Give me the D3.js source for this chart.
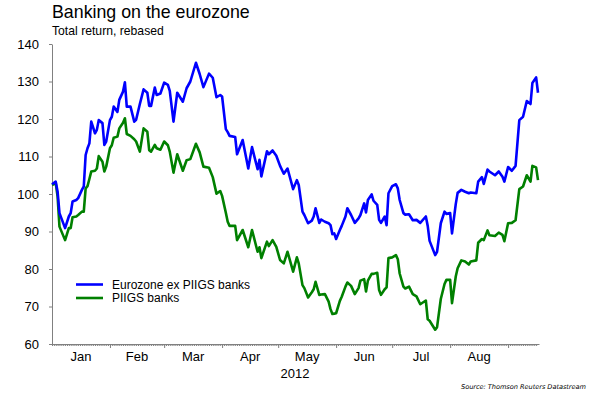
<!DOCTYPE html>
<html>
<head>
<meta charset="utf-8">
<script src="https://cdn.jsdelivr.net/npm/d3@7"></script>
<style>
  body { margin: 0; background: #fff; }
  svg { display: block; font-family: "Liberation Sans", Arial, sans-serif; }
</style>
</head>
<body>
<div id="chart"></div>
<script>
(function () {
  "use strict";

  // trading days sampled off the chart (2012)
  var dates = [
    "01-01","01-03","01-04","01-05","01-08","01-10","01-11","01-12","01-14","01-15",
    "01-17","01-18","01-19","01-20","01-21","01-22","01-24","01-25","01-26","01-28",
    "01-29","01-30","02-01","02-02","02-03","02-05","02-06","02-08","02-09","02-10",
    "02-12","02-14","02-15","02-17","02-19","02-21","02-22","02-23","02-25","02-26",
    "02-28","03-01","03-03","03-04","03-06","03-08","03-11","03-13","03-15","03-18",
    "03-20","03-22","03-25","03-27","03-29","03-31","04-01","04-03","04-04","04-05",
    "04-08","04-09","04-12","04-15","04-17","04-20","04-21","04-22","04-25","04-26",
    "04-28","04-30","05-02","05-04","05-06","05-09","05-11","05-12","05-14","05-15",
    "05-17","05-19","05-20","05-21","05-23","05-24","05-26","05-28","05-29","05-30",
    "05-31","06-01","06-03","06-04","06-06","06-07","06-09","06-11","06-13","06-14",
    "06-16","06-17","06-18","06-20","06-21","06-23","06-24","06-25","06-27","06-28",
    "06-29","07-01","07-03","07-04","07-05","07-07","07-08","07-10","07-12","07-14",
    "07-16","07-19","07-20","07-21","07-24","07-25","07-27","07-29","07-30","08-01",
    "08-02","08-04","08-05","08-07","08-09","08-11","08-12","08-15","08-16","08-18",
    "08-19","08-21","08-22","08-25","08-27","08-29","08-30","09-01","09-03","09-05",
    "09-07","09-09","09-11","09-13","09-14","09-16","09-17"
  ];

  var exPiigs = [
    102.6,103.3,100.6,94.9,90.9,94.0,94.9,98.0,98.4,98.9,
    101.1,102.0,110.4,112.2,113.5,119.3,116.2,117.1,119.7,118.9,
    113.1,114.0,119.7,120.6,123.3,121.9,125.1,127.3,129.8,123.3,
    123.3,119.3,119.8,124.0,127.9,127.0,123.5,123.5,128.4,126.4,
    126.8,129.7,129.1,127.5,119.3,127.0,124.6,128.2,130.0,135.0,
    132.0,128.5,132.1,131.0,125.8,126.4,126.0,117.3,116.5,115.5,
    115.2,110.6,114.4,106.8,112.5,106.6,109.1,104.7,111.4,110.6,
    111.6,110.2,107.5,105.4,106.8,101.3,103.7,102.4,95.3,94.4,
    92.2,92.9,94.0,96.2,92.3,93.2,92.6,92.2,91.7,89.3,
    89.5,88.0,90.4,91.5,94.0,96.2,94.4,92.3,93.5,94.4,
    97.5,95.1,98.4,99.9,98.2,97.1,93.1,92.3,94.0,91.7,
    100.2,102.1,102.6,101.5,98.4,94.9,94.5,94.6,93.0,93.1,
    92.3,94.0,91.5,87.5,83.7,84.6,92.2,95.3,94.7,94.9,
    89.5,97.3,100.3,101.1,100.6,100.2,100.4,100.2,103.3,104.5,
    102.7,106.5,106.0,105.0,106.0,104.6,103.3,107.2,106.2,107.5,
    119.7,120.6,124.8,124.0,129.6,131.1,127.0
  ];

  var piigs = [
    102.4,102.9,99.3,91.3,87.7,90.9,90.9,93.8,94.0,94.4,
    95.3,95.3,101.5,102.1,104.0,106.0,106.2,106.8,110.1,108.6,
    106.0,107.3,112.2,113.0,115.0,115.3,117.5,119.0,120.2,116.0,
    115.5,114.6,114.0,111.3,117.5,116.6,111.7,111.3,113.1,112.2,
    111.8,114.0,113.0,111.3,105.7,110.6,106.2,109.0,109.3,113.4,
    111.1,107.3,107.0,104.5,100.1,100.8,99.5,95.0,92.6,91.5,
    91.5,87.7,90.4,85.8,90.4,84.6,85.8,82.9,87.3,86.1,
    87.7,85.9,82.4,81.5,84.6,79.3,83.1,81.5,75.7,74.9,
    72.4,73.8,74.6,76.6,73.1,73.2,73.3,71.3,69.3,68.0,
    68.1,68.2,71.5,72.6,75.3,76.4,75.5,73.3,74.9,76.9,
    77.3,74.0,76.9,78.7,78.7,79.0,74.4,73.1,74.6,75.1,
    82.9,83.1,83.7,82.6,78.8,75.3,74.8,75.3,73.3,72.7,
    70.6,71.6,66.6,66.2,63.8,64.5,72.0,76.0,77.1,77.1,
    70.9,78.0,80.2,82.3,82.0,81.2,82.0,82.3,87.0,88.0,
    87.7,90.3,89.0,88.8,89.7,89.1,87.4,92.2,92.3,93.0,
    101.3,102.0,105.0,103.3,107.5,107.1,103.7
  ];

  var seriesNames = ["Eurozone ex PIIGS banks", "PIIGS banks"];
  var seriesColors = ["#0000ff", "#008000"];
  var yTicks = [60, 70, 80, 90, 100, 110, 120, 130, 140];
  var monthLabels = ["Jan", "Feb", "Mar", "Apr", "May", "Jun", "Jul", "Aug"];

  var W = 590, H = 393;
  var parse = d3.timeParse("%Y-%m-%d");
  var days = dates.map(function (d) { return parse("2012-" + d); });

  var x = d3.scaleTime()
    .domain([new Date(2012, 0, 1), new Date(2012, 8, 17)])
    .range([52, 538]);
  var y = d3.scaleLinear().domain([60, 140]).range([344, 44]);

  var svg = d3.select("#chart").append("svg")
    .attr("width", W)
    .attr("height", H);

  svg.append("text")
    .attr("x", 52).attr("y", 17.5)
    .attr("font-size", 17.8)
    .attr("fill", "#000")
    .text("Banking on the eurozone");

  svg.append("text")
    .attr("x", 52).attr("y", 34.5)
    .attr("font-size", 12.2)
    .attr("fill", "#000")
    .text("Total return, rebased");

  // y axis
  var yAxis = svg.append("g")
    .attr("transform", "translate(52,0)")
    .call(d3.axisLeft(y).tickValues(yTicks).tickSize(3).tickSizeOuter(0).tickPadding(10));
  yAxis.select(".domain").attr("stroke", "#808080");
  yAxis.selectAll(".tick line").attr("stroke", "#808080");
  yAxis.selectAll("text")
    .attr("font-size", 13)
    .attr("font-family", "'Liberation Sans', Arial, sans-serif")
    .attr("fill", "#000");

  // x axis: daily minor ticks, month major ticks
  var xDomain = x.domain();
  var minor = svg.append("g")
    .attr("transform", "translate(0,344)")
    .call(d3.axisBottom(x)
      .tickValues(d3.timeDay.range(xDomain[0], xDomain[1]))
      .tickSize(2).tickSizeOuter(0).tickFormat(""));
  minor.select(".domain").attr("stroke", "#808080").attr("d", "M52,0.5H539.5");
  minor.selectAll(".tick line").attr("stroke", "#808080");

  var major = svg.append("g")
    .attr("transform", "translate(0,344)")
    .call(d3.axisBottom(x)
      .tickValues(d3.timeMonth.range(new Date(2012, 1, 1), xDomain[1]))
      .tickSize(4).tickSizeOuter(0).tickFormat(""));
  major.select(".domain").remove();
  major.selectAll(".tick line").attr("stroke", "#808080");

  svg.append("g").selectAll("text")
    .data(monthLabels)
    .join("text")
    .attr("x", function (d, i) {
      return (x(new Date(2012, i, 1)) + x(new Date(2012, i + 1, 1))) / 2;
    })
    .attr("y", 360.5)
    .attr("text-anchor", "middle")
    .attr("font-size", 13)
    .attr("fill", "#000")
    .text(function (d) { return d; });

  svg.append("text")
    .attr("x", 295).attr("y", 378)
    .attr("text-anchor", "middle")
    .attr("font-size", 13)
    .attr("fill", "#000")
    .text("2012");

  // lines
  var line = d3.line()
    .x(function (d) { return x(d[0]); })
    .y(function (d) { return y(d[1]); });

  [piigs, exPiigs].forEach(function (vals) {
    var idx = vals === exPiigs ? 0 : 1;
    svg.append("path")
      .datum(days.map(function (d, i) { return [d, vals[i]]; }))
      .attr("fill", "none")
      .attr("stroke", seriesColors[idx])
      .attr("stroke-width", 2.6)
      .attr("stroke-linejoin", "round")
      .attr("d", line);
  });

  // legend
  var legend = svg.append("g").selectAll("g")
    .data(seriesNames)
    .join("g")
    .attr("transform", function (d, i) { return "translate(76," + (284.5 + i * 13.5) + ")"; });
  legend.append("line")
    .attr("x1", 0).attr("x2", 27)
    .attr("stroke", function (d, i) { return seriesColors[i]; })
    .attr("stroke-width", 2.6);
  legend.append("text")
    .attr("x", 36).attr("y", 4)
    .attr("font-size", 12)
    .attr("fill", "#000")
    .text(function (d) { return d; });

  svg.append("text")
    .attr("x", 586).attr("y", 389)
    .attr("text-anchor", "end")
    .attr("font-size", 6.6)
    .attr("font-style", "italic")
    .attr("font-family", "'DejaVu Sans', Verdana, sans-serif")
    .attr("fill", "#000")
    .attr("textLength", 125)
    .attr("lengthAdjust", "spacing")
    .text("Source:  Thomson Reuters Datastream");
})();
</script>
</body>
</html>
